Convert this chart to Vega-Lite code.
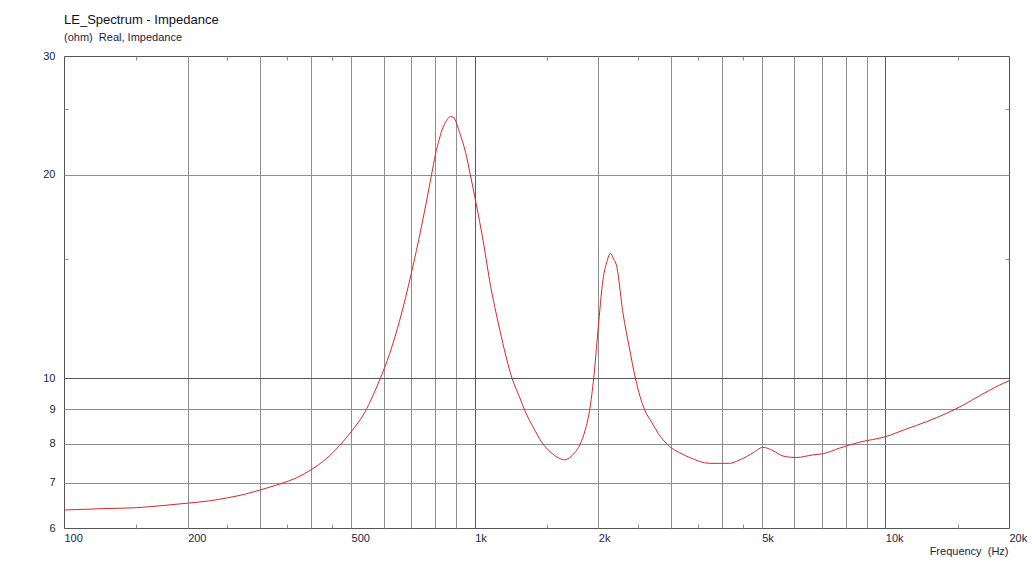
{
  "$schema": "https://vega.github.io/schema/vega-lite/v6.json",
  "width": 945,
  "height": 472,
  "autosize": "none",
  "padding": {"left": 64, "top": 56, "right": 23, "bottom": 35},
  "background": "white",
  "title": {
    "text": "LE_Spectrum - Impedance",
    "subtitle": "(ohm)\u00a0 Real, Impedance",
    "anchor": "start",
    "frame": "group",
    "font": "Liberation Sans",
    "fontSize": 13,
    "fontWeight": "normal",
    "color": "#111122",
    "subtitleFont": "Liberation Sans",
    "subtitleFontSize": 11,
    "subtitleColor": "#1c1c44",
    "subtitlePadding": 5,
    "offset": 7
  },
  "config": {
    "view": {"stroke": "#555555", "strokeWidth": 1},
    "axis": {
      "labelFont": "Liberation Sans",
      "titleFont": "Liberation Sans",
      "labelFontSize": 11,
      "labelColor": "#1c1c44",
      "titleColor": "#1c1c44",
      "domain": false
    }
  },
  "data": {
    "values": [
      {"f": 100, "z": 6.38}, {"f": 125, "z": 6.41}, {"f": 150, "z": 6.43}, {"f": 175, "z": 6.48},
      {"f": 200, "z": 6.53}, {"f": 225, "z": 6.58}, {"f": 250, "z": 6.65}, {"f": 275, "z": 6.73},
      {"f": 300, "z": 6.83}, {"f": 335, "z": 6.97}, {"f": 370, "z": 7.13}, {"f": 400, "z": 7.32},
      {"f": 435, "z": 7.6}, {"f": 469, "z": 7.95}, {"f": 500, "z": 8.33}, {"f": 540, "z": 8.9},
      {"f": 565, "z": 9.42}, {"f": 587, "z": 9.94}, {"f": 621, "z": 10.88}, {"f": 657, "z": 12.19},
      {"f": 701, "z": 14.3}, {"f": 742, "z": 16.77}, {"f": 785, "z": 20.0}, {"f": 802, "z": 21.4},
      {"f": 820, "z": 22.6}, {"f": 837, "z": 23.5}, {"f": 853, "z": 24.05}, {"f": 866, "z": 24.35},
      {"f": 877, "z": 24.4}, {"f": 894, "z": 24.2}, {"f": 919, "z": 23.1}, {"f": 950, "z": 21.6},
      {"f": 976, "z": 20.0}, {"f": 1008, "z": 18.15}, {"f": 1048, "z": 16.0}, {"f": 1094, "z": 13.66},
      {"f": 1119, "z": 12.76}, {"f": 1151, "z": 11.79}, {"f": 1233, "z": 10.0}, {"f": 1292, "z": 9.31},
      {"f": 1323, "z": 8.97}, {"f": 1390, "z": 8.45}, {"f": 1454, "z": 8.05}, {"f": 1550, "z": 7.72},
      {"f": 1600, "z": 7.62}, {"f": 1656, "z": 7.57}, {"f": 1700, "z": 7.62}, {"f": 1750, "z": 7.75},
      {"f": 1802, "z": 7.96}, {"f": 1860, "z": 8.4}, {"f": 1905, "z": 8.97}, {"f": 1949, "z": 10.0},
      {"f": 1997, "z": 11.79}, {"f": 2053, "z": 13.98}, {"f": 2100, "z": 14.9}, {"f": 2140, "z": 15.31},
      {"f": 2180, "z": 15.0}, {"f": 2213, "z": 14.71}, {"f": 2297, "z": 12.48}, {"f": 2380, "z": 11.1},
      {"f": 2462, "z": 10.0}, {"f": 2594, "z": 8.97}, {"f": 2700, "z": 8.6}, {"f": 2800, "z": 8.28},
      {"f": 2985, "z": 7.92}, {"f": 3150, "z": 7.76}, {"f": 3338, "z": 7.63}, {"f": 3734, "z": 7.48},
      {"f": 4178, "z": 7.48}, {"f": 4400, "z": 7.56}, {"f": 4586, "z": 7.65}, {"f": 4800, "z": 7.78},
      {"f": 5035, "z": 7.9}, {"f": 5326, "z": 7.81}, {"f": 5632, "z": 7.67}, {"f": 6071, "z": 7.63},
      {"f": 6665, "z": 7.7}, {"f": 7051, "z": 7.73}, {"f": 7741, "z": 7.88}, {"f": 8659, "z": 8.04},
      {"f": 10000, "z": 8.19}, {"f": 11250, "z": 8.41}, {"f": 12587, "z": 8.62}, {"f": 14083, "z": 8.87},
      {"f": 15453, "z": 9.12}, {"f": 16965, "z": 9.42}, {"f": 18979, "z": 9.77}, {"f": 20000, "z": 9.91}
    ]
  },
  "resolve": {"axis": {"x": "independent", "y": "independent"}},
  "layer": [
    {
      "mark": {"type": "line", "opacity": 0},
      "encoding": {
        "x": {"field": "f", "type": "quantitative",
          "scale": {"type": "log", "domain": [100, 20000], "nice": false},
          "axis": {"orient": "bottom", "values": [200, 300, 400, 500, 600, 700, 800, 900, 1000, 2000, 3000, 4000, 5000, 6000, 7000, 8000, 9000, 10000],
            "grid": true, "labels": false, "ticks": false, "title": null,
            "gridColor": {"condition": {"test": "datum.value == 1000 || datum.value == 10000", "value": "#5a5a5a"}, "value": "#8e8e8e"},
            "gridOpacity": 1, "gridWidth": 1}},
        "y": {"field": "z", "type": "quantitative",
          "scale": {"type": "log", "domain": [6, 30], "nice": false},
          "axis": {"orient": "left", "values": [7, 8, 9, 10, 20],
            "grid": true, "labels": false, "ticks": false, "title": null,
            "gridColor": {"condition": {"test": "datum.value == 10", "value": "#5a5a5a"}, "value": "#8e8e8e"},
            "gridOpacity": 1, "gridWidth": 1}}
      }
    },
    {
      "mark": {"type": "line", "opacity": 0},
      "encoding": {
        "x": {"field": "f", "type": "quantitative",
          "axis": {"orient": "bottom", "values": [150, 250, 350, 450, 1500, 2500, 3500, 4500, 15000],
            "grid": false, "labels": false, "ticks": true, "tickSize": -4, "tickColor": "#8e8e8e", "title": null}},
        "y": {"field": "z", "type": "quantitative",
          "axis": {"orient": "left", "values": [15, 25],
            "grid": false, "labels": false, "ticks": true, "tickSize": -4, "tickColor": "#8e8e8e", "title": null}}
      }
    },
    {
      "mark": {"type": "line", "opacity": 0},
      "encoding": {
        "x": {"field": "f", "type": "quantitative",
          "axis": {"orient": "top", "values": [150, 250, 350, 450, 1500, 2500, 3500, 4500, 15000],
            "grid": false, "labels": false, "ticks": true, "tickSize": -4, "tickColor": "#8e8e8e", "title": null}},
        "y": {"field": "z", "type": "quantitative",
          "axis": {"orient": "right", "values": [15, 25],
            "grid": false, "labels": false, "ticks": true, "tickSize": -4, "tickColor": "#8e8e8e", "title": null}}
      }
    },
    {
      "mark": {"type": "line", "color": "#d42a2a", "strokeWidth": 1, "interpolate": "monotone"},
      "encoding": {
        "x": {"field": "f", "type": "quantitative",
          "axis": {"orient": "bottom", "values": [100, 200, 500, 1000, 2000, 5000, 10000, 20000],
            "labelExpr": "datum.value >= 1000 ? (datum.value / 1000) + 'k' : '' + datum.value",
            "grid": false, "ticks": false, "labelAlign": "left", "labelBaseline": "top", "labelPadding": 4,
            "labelFlush": false, "labelOverlap": false, "labelBound": false,
            "title": "Frequency\u00a0 (Hz)", "titleFontSize": 11, "titleFontWeight": "normal",
            "titleAlign": "right", "titleAnchor": "end", "titleBaseline": "alphabetic", "titleX": 944, "titleY": 26}},
        "y": {"field": "z", "type": "quantitative",
          "axis": {"orient": "left", "values": [6, 7, 8, 9, 10, 20, 30],
            "grid": false, "ticks": false, "labelPadding": 9, "labelBaseline": "middle",
            "labelFlush": false, "labelOverlap": false, "labelBound": false, "title": null}}
      }
    }
  ]
}
